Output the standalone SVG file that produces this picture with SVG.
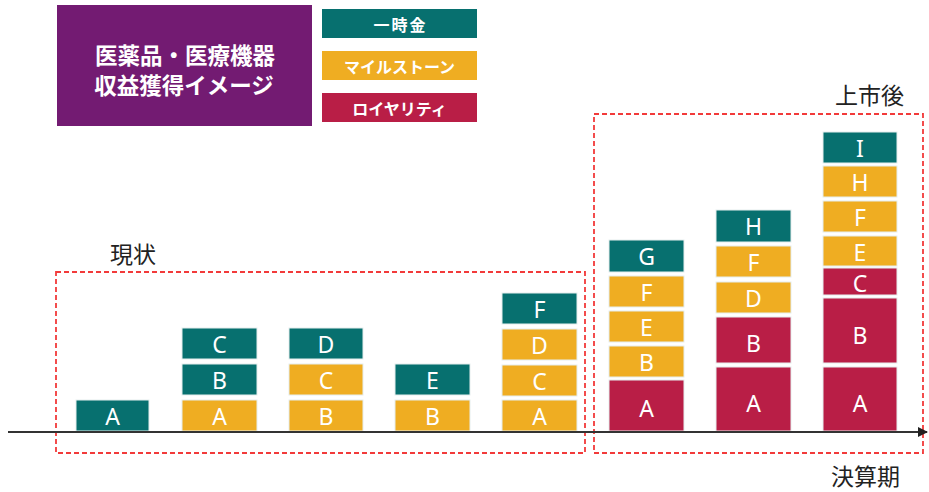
<svg xmlns="http://www.w3.org/2000/svg" width="929" height="492" viewBox="0 0 929 492">
<defs>
<style>
.t{fill:#07706f}.m{fill:#efad22}.r{fill:#b91e46}
.bar rect{stroke:#e6eeee;stroke-width:1}
.bar text{fill:#fff;font-family:"Noto Sans","DejaVu Sans",sans-serif;font-size:23px;text-anchor:middle;dominant-baseline:central}
.lg text{fill:#fff;font-family:"Noto Sans CJK JP",sans-serif;font-weight:bold;font-size:16px;text-anchor:middle;dominant-baseline:central}
.lbl{fill:#222;font-family:"Noto Sans CJK JP",sans-serif;font-size:23px}
.ttl{fill:#fff;font-family:"Noto Sans CJK JP",sans-serif;font-weight:bold;font-size:22.5px;text-anchor:middle;dominant-baseline:central}
.dash{fill:none;stroke:#f23a3a;stroke-width:1.8;stroke-dasharray:5 3}
</style>
<marker id="arr" viewBox="0 0 10 10" refX="9" refY="5" markerWidth="5" markerHeight="5" orient="auto"><path d="M0,0L10,5L0,10z" fill="#222"/></marker>
</defs>
<rect width="929" height="492" fill="#fff"/>
<g id="title">
<rect x="57" y="5" width="255" height="121" fill="#731b72"/>
<text class="ttl" x="185" y="54">医薬品・医療機器</text>
<text class="ttl" x="184" y="84">収益獲得イメージ</text>
</g>
<g id="legend" class="lg">
<rect class="t" x="322" y="9" width="155" height="29"/><text x="400.5" y="23.5" letter-spacing="2">一時金</text>
<rect class="m" x="322" y="51" width="155" height="29"/><text x="399.5" y="65.5">マイルストーン</text>
<rect class="r" x="322" y="93" width="155" height="29"/><text x="399.5" y="107.5">ロイヤリティ</text>
</g>
<g id="frames">
<rect class="dash" x="56" y="272" width="529" height="181"/>
<rect class="dash" x="594" y="114" width="329" height="339"/>
<text class="lbl" x="110" y="263">現状</text>
<text class="lbl" x="835" y="104">上市後</text>
<text class="lbl" x="831" y="485">決算期</text>
</g>
<g id="col1" class="bar">
<rect class="t" x="76" y="400" width="73" height="31"/><text x="112.5" y="416">A</text>
</g>
<g id="col2" class="bar">
<rect class="m" x="182" y="400" width="75" height="31"/><text x="219.5" y="416">A</text>
<rect class="t" x="182" y="364" width="75" height="31"/><text x="219.5" y="380">B</text>
<rect class="t" x="182" y="328" width="75" height="31"/><text x="219.5" y="344">C</text>
</g>
<g id="col3" class="bar">
<rect class="m" x="289" y="400" width="74" height="31"/><text x="326" y="416">B</text>
<rect class="m" x="289" y="364" width="74" height="31"/><text x="326" y="380">C</text>
<rect class="t" x="289" y="328" width="74" height="31"/><text x="326" y="344">D</text>
</g>
<g id="col4" class="bar">
<rect class="m" x="395" y="400" width="75" height="31"/><text x="432.5" y="416">B</text>
<rect class="t" x="395" y="364" width="75" height="31"/><text x="432.5" y="380">E</text>
</g>
<g id="col5" class="bar">
<rect class="m" x="502" y="400" width="75" height="31"/><text x="539.5" y="416">A</text>
<rect class="m" x="502" y="365" width="75" height="31"/><text x="539.5" y="381">C</text>
<rect class="m" x="502" y="329" width="75" height="31"/><text x="539.5" y="345">D</text>
<rect class="t" x="502" y="293" width="75" height="31"/><text x="539.5" y="309">F</text>
</g>
<g id="col6" class="bar">
<rect class="r" x="609" y="380" width="75" height="51"/><text x="646.5" y="408">A</text>
<rect class="m" x="609" y="346" width="75" height="31"/><text x="646.5" y="362">B</text>
<rect class="m" x="609" y="311" width="75" height="31"/><text x="646.5" y="327">E</text>
<rect class="m" x="609" y="276" width="75" height="31"/><text x="646.5" y="292">F</text>
<rect class="t" x="609" y="240" width="75" height="32"/><text x="646.5" y="256">G</text>
</g>
<g id="col7" class="bar">
<rect class="r" x="716" y="367" width="75" height="64"/><text x="753.5" y="403">A</text>
<rect class="r" x="716" y="317" width="75" height="46"/><text x="753.5" y="343">B</text>
<rect class="m" x="716" y="282" width="75" height="31"/><text x="753.5" y="298">D</text>
<rect class="m" x="716" y="246" width="75" height="31"/><text x="753.5" y="262">F</text>
<rect class="t" x="716" y="210" width="75" height="32"/><text x="753.5" y="226">H</text>
</g>
<g id="col8" class="bar">
<rect class="r" x="823" y="367" width="74" height="64"/><text x="860" y="403">A</text>
<rect class="r" x="823" y="298" width="74" height="65"/><text x="860" y="335">B</text>
<rect class="r" x="823" y="268" width="74" height="27"/><text x="860" y="283">C</text>
<rect class="m" x="823" y="236" width="74" height="30"/><text x="860" y="252">E</text>
<rect class="m" x="823" y="201" width="74" height="31"/><text x="860" y="217">F</text>
<rect class="m" x="823" y="166" width="74" height="31"/><text x="860" y="182">H</text>
<rect class="t" x="823" y="132" width="74" height="31"/><text x="860" y="148">I</text>
</g>
<g id="connectors">
<line x1="8" y1="432" x2="927" y2="432" stroke="#333" stroke-width="2" marker-end="url(#arr)"/>
</g>
</svg>
